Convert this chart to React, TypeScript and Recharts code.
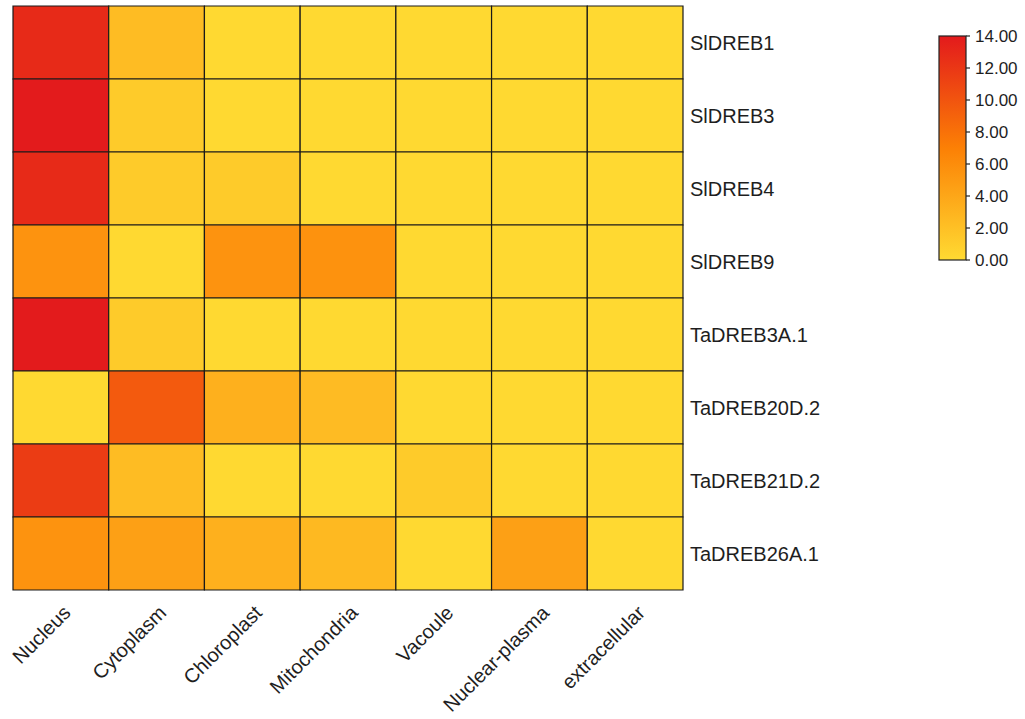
import React from 'react';
import { BarChart, Bar, XAxis, YAxis, Cell } from 'recharts';

// Subcellular localisation categories (columns) and DREB genes (rows)
const locations = ['Nucleus', 'Cytoplasm', 'Chloroplast', 'Mitochondria', 'Vacoule', 'Nuclear-plasma', 'extracellular'];
const genes = ['SlDREB1', 'SlDREB3', 'SlDREB4', 'SlDREB9', 'TaDREB3A.1', 'TaDREB20D.2', 'TaDREB21D.2', 'TaDREB26A.1'];

// Localisation scores per location, one entry per gene (same order as genes)
const nucleus = [12.9, 13.9, 12.9, 5.5, 13.9, 0.1, 11.7, 5.5];
const cytoplasm = [2.3, 1.2, 1.2, 0.1, 1.2, 9.6, 2.3, 4.5];
const chloroplast = [0.1, 0.1, 1.2, 5.5, 0.1, 3.3, 0.1, 3.3];
const mitochondria = [0.1, 0.1, 0.1, 5.6, 0.1, 2.4, 0.1, 2.6];
const vacuole = [0.1, 0.1, 0.1, 0.1, 0.1, 0.1, 1.2, 0.1];
const nuclearPlasma = [0.1, 0.1, 0.1, 0.1, 0.1, 0.1, 0.1, 4.5];
const extracellular = [0.1, 0.1, 0.1, 0.1, 0.1, 0.1, 0.1, 0.1];

const valueColumns = [nucleus, cytoplasm, chloroplast, mitochondria, vacuole, nuclearPlasma, extracellular];

// Colour bar ticks
const legendTicks = [0, 2, 4, 6, 8, 10, 12, 14];
const legendMax = 14;

// Colour scale stops: yellow -> orange -> red
const colorStops: { v: number; c: [number, number, number] }[] = [
  { v: 0, c: [255, 218, 50] },
  { v: 7, c: [252, 128, 5] },
  { v: 14, c: [227, 26, 28] },
];

const toHex = (c: number[]) =>
  '#' + c.map((n) => Math.round(n).toString(16).padStart(2, '0')).join('');

function colorFor(v: number): string {
  for (let i = 0; i < colorStops.length - 1; i++) {
    const a = colorStops[i];
    const b = colorStops[i + 1];
    if (v <= b.v) {
      const t = Math.max(0, (v - a.v) / (b.v - a.v));
      return toHex(a.c.map((ch, k) => ch + (b.c[k] - ch) * t));
    }
  }
  return toHex(colorStops[colorStops.length - 1].c);
}

// Each location occupies one unit on the horizontal axis; bars are stacked per gene row
const rows = genes.map((gene, r) => {
  const row: Record<string, number | string> = { gene };
  locations.forEach((_, c) => {
    row[`span${c}`] = 1;
  });
  return row;
});

const columnTicks = locations.map((_, i) => i + 0.5);

const FONT = '"Liberation Sans", Arial, Helvetica, sans-serif';
const TEXT = '#1e1e1e';

const XTick = (props: any) => {
  const { x, y, payload } = props;
  const label = locations[Math.floor(payload.value)];
  const ax = x + 11;
  const ay = y + 16;
  return (
    <text
      x={ax}
      y={ay}
      textAnchor="end"
      transform={`rotate(-45, ${ax}, ${ay})`}
      fontSize={20}
      fontFamily={FONT}
      fill={TEXT}
    >
      {label}
    </text>
  );
};

const YTick = (props: any) => {
  const { y, payload } = props;
  return (
    <text x={690} y={y} dy="0.36em" textAnchor="start" fontSize={20} fontFamily={FONT} fill={TEXT}>
      {payload.value}
    </text>
  );
};

const barLeft = 939;
const barTop = 36;
const barW = 27;
const barH = 224;

export default function App() {
  return (
    <div style={{ position: 'absolute', left: 0, top: 0, width: 1025, height: 719, background: '#fff' }}>
      <BarChart
        width={1025}
        height={719}
        data={rows}
        layout="vertical"
        margin={{ top: 6, left: 13, right: 142, bottom: 19 }}
        barCategoryGap={0}
        barGap={0}
      >
        <XAxis
          type="number"
          domain={[0, locations.length]}
          ticks={columnTicks}
          interval={0}
          axisLine={false}
          tickLine={false}
          height={110}
          tick={<XTick />}
        />
        <YAxis
          type="category"
          dataKey="gene"
          orientation="right"
          width={200}
          axisLine={false}
          tickLine={false}
          interval={0}
          tick={<YTick />}
        />
        {locations.map((loc, c) => (
          <Bar
            key={loc}
            dataKey={`span${c}`}
            stackId="cells"
            stroke="#1a1a1a"
            strokeWidth={1.2}
            isAnimationActive={false}
          >
            {genes.map((g, r) => (
              <Cell key={g} fill={colorFor(valueColumns[c][r])} />
            ))}
          </Bar>
        ))}
      </BarChart>

      <svg
        width={1025}
        height={719}
        style={{ position: 'absolute', left: 0, top: 0, pointerEvents: 'none' }}
      >
        <defs>
          <linearGradient id="scaleGrad" x1="0" y1="1" x2="0" y2="0">
            {colorStops.map((s) => (
              <stop key={s.v} offset={s.v / legendMax} stopColor={toHex(s.c)} />
            ))}
          </linearGradient>
        </defs>
        <rect x={barLeft} y={barTop} width={barW} height={barH} fill="url(#scaleGrad)" stroke="#222" strokeWidth={1.2} />
        {legendTicks.map((t) => {
          const ty = barTop + barH - (t / legendMax) * barH;
          return (
            <g key={t}>
              <line x1={barLeft + barW} x2={barLeft + barW + 4} y1={ty} y2={ty} stroke="#222" strokeWidth={1.2} />
              <text x={975} y={ty} dy="0.36em" fontSize={17} fontFamily={FONT} fill={TEXT}>
                {t.toFixed(2)}
              </text>
            </g>
          );
        })}
      </svg>
    </div>
  );
}
